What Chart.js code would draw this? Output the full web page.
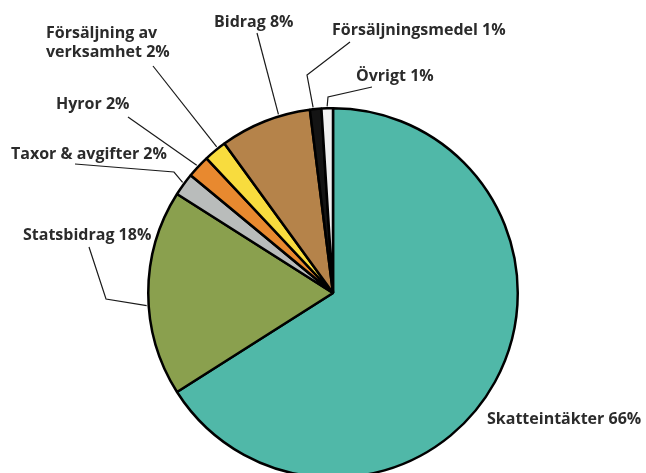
<!DOCTYPE html>
<html><head><meta charset="utf-8">
<script src="https://cdn.jsdelivr.net/npm/chart.js@4/dist/chart.umd.min.js"></script>
<style>
html,body{margin:0;padding:0;background:#fff;overflow:hidden;width:646px;height:473px}
#wrap{position:absolute;left:0;top:0;width:646px;height:600px}
</style></head>
<body>
<div id="wrap"><canvas id="c"></canvas></div>
<script>
const categories = ['Skatteintäkter','Statsbidrag','Taxor & avgifter','Hyror','Försäljning av verksamhet','Bidrag','Försäljningsmedel','Övrigt'];
const values = [66,18,2,2,2,8,1,1];
const colors = ['#50b8a8','#8aa04e','#b9bcbb','#e8892f','#f8dc3e','#b5834a','#141414','#f0f0f0'];

// label layout: text lines (left x, baseline y), elbow points, fraction along slice for leader end
const labelLayout = [
  {lines:[[487,424]], elbows:null},
  {lines:[[23,240]], elbows:[[89,247],[106,299]], frac:0.44},
  {lines:[[11,159]], elbows:[[75,164],[174,172]], frac:0.55},
  {lines:[[56,109]], elbows:[[128,117]], frac:0.49},
  {lines:[[46,38],[46,57]], split:true, elbows:[[153,66]], frac:0.65},
  {lines:[[214,27]], elbows:[[257,33]], frac:0.66},
  {lines:[[332,35]], elbows:[[350,42],[307,75]], frac:0.3},
  {lines:[[356,81]], elbows:[[372,87],[328,97]], frac:0.5}
];

const labelPlugin = {
  id:'labels',
  afterDatasetsDraw(chart){
    const ctx = chart.ctx;
    const meta = chart.getDatasetMeta(0);
    ctx.save();
    ctx.font = '700 16px "Open Sans"';
    ctx.fillStyle = '#2b2b2b';
    ctx.textBaseline = 'alphabetic';
    ctx.textAlign = 'left';
    labelLayout.forEach((L,i)=>{
      const txt = categories[i] + ' ' + values[i] + '%';
      let parts = [txt];
      if (L.split){ parts = ['Försäljning av', 'verksamhet ' + values[i] + '%']; }
      parts.forEach((p,k)=>ctx.fillText(p, L.lines[k][0], L.lines[k][1]));
      if (L.elbows){
        const arc = meta.data[i];
        const a = arc.startAngle + L.frac*(arc.endAngle-arc.startAngle);
        const r = arc.outerRadius + 2;
        const ex = arc.x + r*Math.cos(a), ey = arc.y + r*Math.sin(a);
        ctx.beginPath();
        ctx.strokeStyle = '#1a1a1a';
        ctx.lineWidth = 1.2;
        ctx.moveTo(L.elbows[0][0], L.elbows[0][1]);
        for (let k=1;k<L.elbows.length;k++) ctx.lineTo(L.elbows[k][0], L.elbows[k][1]);
        ctx.lineTo(ex, ey);
        ctx.stroke();
      }
    });
    ctx.restore();
  }
};

new Chart(document.getElementById('c'), {
  type:'pie',
  data:{labels:categories, datasets:[{data:values, backgroundColor:colors, borderColor:'#000', borderWidth:2.5}]},
  options:{
    responsive:true, maintainAspectRatio:false, animation:false,
    layout:{padding:{left:147,right:127,top:107,bottom:121}},
    plugins:{legend:{display:false}, tooltip:{enabled:false}}
  },
  plugins:[labelPlugin]
});
</script>
</body></html>
